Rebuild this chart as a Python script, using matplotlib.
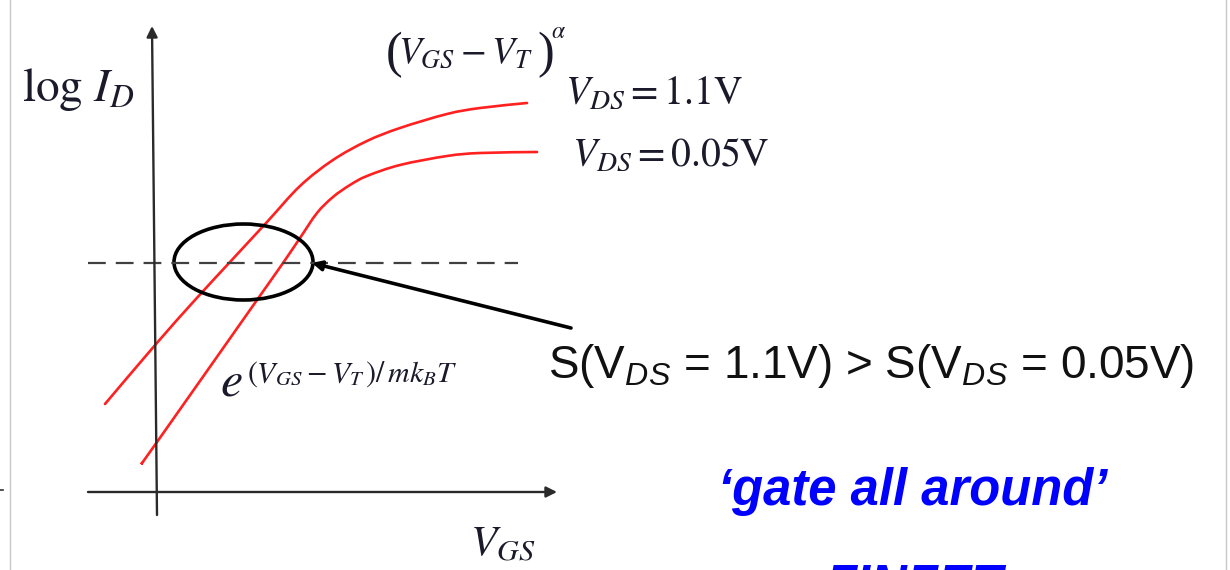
import numpy as np
import matplotlib.pyplot as plt
from matplotlib.patches import Ellipse, PathPatch
from matplotlib.path import Path

plt.rcParams['mathtext.fontset'] = 'custom'
plt.rcParams['mathtext.rm'] = 'Liberation Sans'
plt.rcParams['mathtext.it'] = 'Liberation Sans:italic'

# schematic transfer curves, in canvas units (x = V_GS, y = log I_D, y grows downward)
vgs_hi = [105, 156, 195, 230, 267, 300, 333, 367, 400, 447, 480, 527]
logid_hi = [404, 344, 300, 262, 222, 186, 160, 141, 128, 114, 108, 103]
vgs_lo = [142, 157, 257, 283, 300, 317, 333, 350, 367, 400, 447, 480, 537]
logid_lo = [463, 442, 300, 263, 238, 213, 197, 185, 176, 165, 156, 153, 152]

# reference current level and the subthreshold region marker
i_ref = 263
ref_x = [88, 518]
ell_center = (243.5, 262)
ell_size = (139, 76)


def smooth_path(xs, ys):
    # cubic bezier through every point (catmull-rom tangents)
    p = np.column_stack([xs, ys]).astype(float)
    verts = [p[0]]
    codes = [Path.MOVETO]
    for i in range(len(p) - 1):
        p0 = p[max(i - 1, 0)]
        p3 = p[min(i + 2, len(p) - 1)]
        c1 = p[i] + (p[i + 1] - p0) / 6
        c2 = p[i + 1] - (p3 - p[i]) / 6
        verts += [c1, c2, p[i + 1]]
        codes += [Path.CURVE4] * 3
    return Path(verts, codes)


fig = plt.figure(figsize=(12.3, 5.7), dpi=100)
ax = fig.add_axes([0, 0, 1, 1])
ax.set_xlim(0, 1230)
ax.set_ylim(570, 0)
ax.axis('off')

# slide borders
ax.plot([10, 10], [0, 570], color='#c8c8c8', lw=1)
ax.plot([1226, 1226], [0, 570], color='#c8c8c8', lw=1)
ax.plot([0, 3], [490, 490], color='#333333', lw=1.2)

# axes with arrows
ax.annotate('', xy=(152, 26), xytext=(157, 515),
            arrowprops=dict(arrowstyle='-|>', color='#2a2a2a', lw=1.7,
                            mutation_scale=16, shrinkA=0, shrinkB=0))
ax.annotate('', xy=(557, 492), xytext=(88, 492),
            arrowprops=dict(arrowstyle='-|>', color='#2a2a2a', lw=1.7,
                            mutation_scale=16, shrinkA=0, shrinkB=0))

ax.plot(ref_x, [i_ref, i_ref], color='#404040', lw=1.6, dashes=(8, 4.5))

for xs, ys in [(vgs_hi, logid_hi), (vgs_lo, logid_lo)]:
    ax.add_patch(PathPatch(smooth_path(xs, ys), fill=False, ec='#ff2020',
                           lw=1.9, capstyle='round'))

ax.add_patch(Ellipse(ell_center, ell_size[0], ell_size[1], fill=False,
                     ec='black', lw=2.6))
ax.annotate('', xy=(312, 263), xytext=(571, 328),
            arrowprops=dict(arrowstyle='-|>', color='black', lw=2.6,
                            mutation_scale=14, shrinkA=0, shrinkB=0))

serif = dict(family='Liberation Serif', color='#1a1a2a', math_fontfamily='stix')
ax.text(22, 101, r'$\log\,I_D$', fontsize=34, va='baseline', **serif)
# taller parentheses drawn apart from the inner expression
ax.text(386, 67, '(', fontsize=36, va='baseline', **serif)
ax.text(398, 63, r'$V_{GS}-V_T\,$', fontsize=27, va='baseline', **serif)
ax.text(537, 67, ')', fontsize=36, va='baseline', **serif)
ax.text(551, 38, r'$\alpha$', fontsize=17, va='baseline', **serif)
ax.text(565, 104, r'$V_{DS}=1.1\mathrm{V}$', fontsize=28.5, va='baseline', **serif)
ax.text(572, 166, r'$V_{DS}=0.05\mathrm{V}$', fontsize=28.5, va='baseline', **serif)
ax.text(220, 395, r'$e$', fontsize=36, va='baseline', **serif)
ax.text(247, 382, r'$(V_{GS}-V_T\,)/\,mk_BT$', fontsize=21.5, va='baseline', **serif)
ax.text(470, 556, r'$V_{GS}$', fontsize=31, va='baseline', **serif)

ax.text(548, 378, r'S(V$_{\mathit{DS}}$ = 1.1V) > S(V$_{\mathit{DS}}$ = 0.05V)',
        family='Liberation Sans', fontsize=33, color='#111111', va='baseline')

ax.text(718, 505, '\u2018gate all around\u2019', family='Liberation Sans',
        fontsize=36.5, fontweight='bold', fontstyle='italic', color='#0000ff',
        va='baseline')
ax.text(825, 601, 'FINFET', family='Liberation Sans', fontsize=36.5,
        fontweight='bold', fontstyle='italic', color='#0000ff', va='baseline')

fig.savefig('out.png', dpi=100)
